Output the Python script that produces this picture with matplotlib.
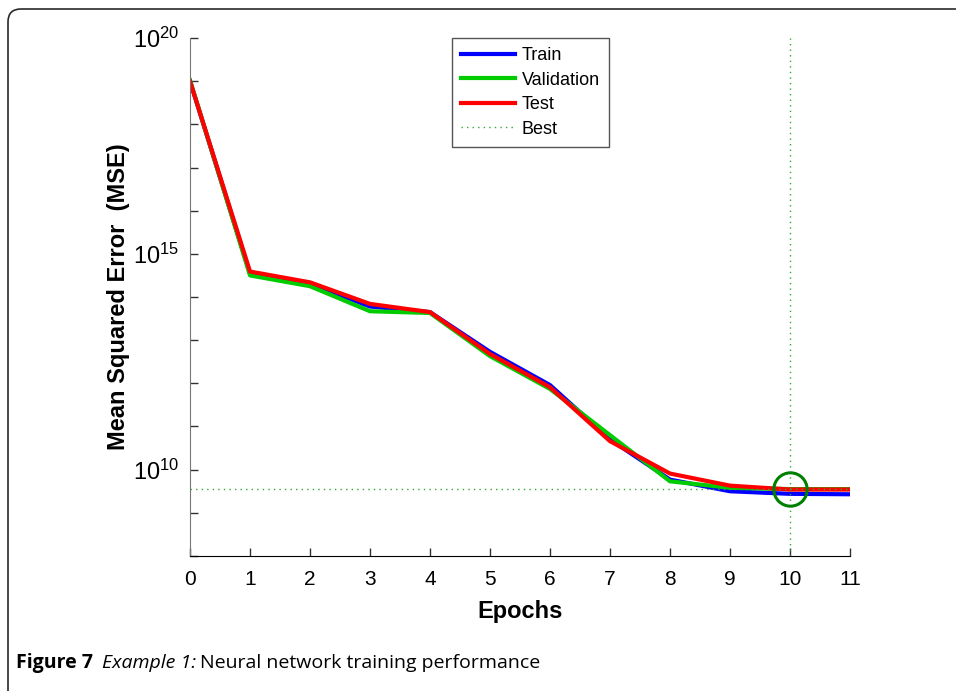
import matplotlib
matplotlib.use('Agg')
import math
import matplotlib.pyplot as plt
from matplotlib.patches import FancyBboxPatch
from matplotlib.ticker import FixedLocator, FuncFormatter

plt.rcParams['font.family'] = ['Liberation Sans', 'DejaVu Sans']
plt.rcParams['mathtext.fontset'] = 'custom'
plt.rcParams['mathtext.rm'] = 'Liberation Sans'

# log10 of MSE per epoch
epochs = [0, 1, 2, 3, 4, 5, 6, 7, 8, 9, 10, 11]
train_log = [19.0, 14.54, 14.31, 13.78, 13.65, 12.73, 11.96, 10.70, 9.77, 9.50, 9.44, 9.43]
val_log = [19.02, 14.50, 14.25, 13.67, 13.63, 12.63, 11.87, 10.80, 9.73, 9.58, 9.55, 9.55]
test_log = [19.0, 14.59, 14.34, 13.84, 13.65, 12.68, 11.91, 10.66, 9.91, 9.63, 9.54, 9.54]
best_epoch = 10
best_log = 9.55

train = [10 ** v for v in train_log]
val = [10 ** v for v in val_log]
test = [10 ** v for v in test_log]
best = 10 ** best_log

W, H = 956, 691
fig = plt.figure(figsize=(W / 100, H / 100), dpi=100)

# outer frame with rounded corners
frame = FancyBboxPatch((8, -20), 1100, H - 9 + 20, boxstyle='round,pad=0,rounding_size=13',
                       transform=None, facecolor='none', edgecolor='#2a2a2a', linewidth=1.2)
fig.patches.append(frame)

ax = fig.add_axes([190 / W, 1 - 556 / H, 660 / W, 518 / H])
ax.plot(epochs, train, color=(0, 0, 1), lw=3, label='Train')
ax.plot(epochs, val, color=(0, 0.8, 0), lw=3, label='Validation')
ax.plot(epochs, test, color=(1, 0, 0), lw=3, label='Test')
ax.axhline(best, color=(0.2, 0.65, 0.2), lw=1, ls=(0, (1, 3)), label='Best')
ax.axvline(best_epoch, color=(0.2, 0.65, 0.2), lw=1, ls=(0, (1, 3)))
ax.plot([best_epoch], [best], 'o', ms=24, mfc='none', mec=(0, 0.5, 0), mew=2.2)

ax.set_yscale('log')
ax.set_xlim(0, 11)
ax.set_ylim(1e8, 1e20)
ax.set_xticks(epochs)
ax.yaxis.set_major_locator(FixedLocator([10.0 ** k for k in range(8, 21)]))
ax.yaxis.set_minor_locator(FixedLocator([]))


def ylab(v, pos):
    k = int(round(math.log10(v)))
    return r'$\mathregular{10^{%d}}$' % k if k % 5 == 0 else ''


ax.yaxis.set_major_formatter(FuncFormatter(ylab))
ax.tick_params(direction='in', length=6, width=1, labelsize=15, color='#333333')
ax.tick_params(axis='y', pad=8, labelsize=17)
ax.tick_params(axis='x', pad=10)
for s in ('top', 'right'):
    ax.spines[s].set_visible(False)
ax.spines['left'].set_color('#777777')
ax.spines['bottom'].set_color('black')

ax.set_xlabel('Epochs', fontsize=17, fontweight='bold', labelpad=8)
ax.set_ylabel('Mean Squared Error  (MSE)', fontsize=17, fontweight='bold', labelpad=2)

leg = ax.legend(loc='upper left', bbox_to_anchor=(452 / W, 1 - 38 / H), bbox_transform=fig.transFigure,
                fontsize=13, handlelength=3.0, handletextpad=0.35, labelspacing=0.42,
                borderpad=0.5, fancybox=False, framealpha=1, borderaxespad=0)
leg.get_frame().set_edgecolor('#555555')
leg.get_frame().set_linewidth(1)

# caption
cy = 1 - 663 / H
r = fig.canvas.get_renderer()
t1 = fig.text(16 / W, cy, 'Figure 7', fontsize=14, fontweight='bold', family='Open Sans', va='center')
x = t1.get_window_extent(r).x1 + 9
t2 = fig.text(x / W, cy, 'Example 1:', fontsize=14, style='italic', family='Open Sans', va='center')
x = t2.get_window_extent(r).x1 + 4
fig.text(x / W, cy, 'Neural network training performance', fontsize=14, family='Open Sans', va='center')

fig.savefig('out.png', dpi=100)
